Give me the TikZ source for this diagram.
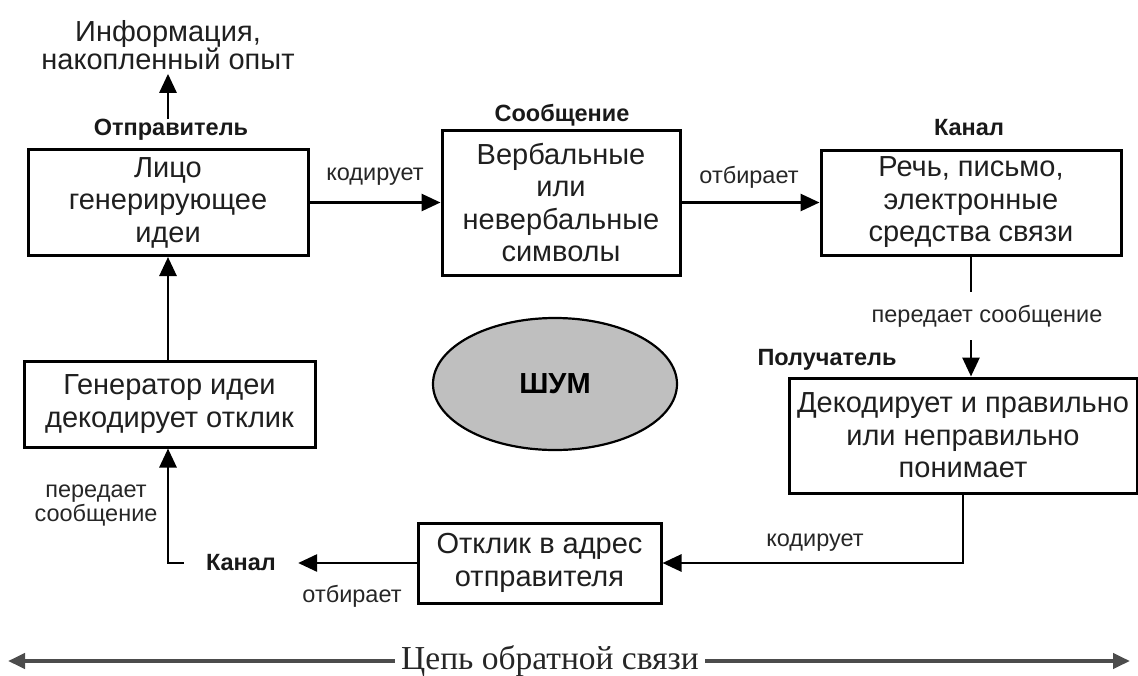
\documentclass[tikz,border=0pt]{standalone}
\usepackage{fontspec}
\setmainfont{Liberation Sans}
\newfontfamily\timesfont{Liberation Serif}
\usetikzlibrary{arrows.meta,positioning,shapes.geometric}

\begin{document}
\begin{tikzpicture}[x=1pt,y=-1pt,
    box/.style={draw,line width=3pt,inner sep=0pt,align=center,
        font=\fontsize{29}{32.5}\selectfont,text=black!88},
    lbl/.style={inner sep=0pt,align=center,font=\fontsize{23.5}{24}\selectfont,text=black!85},
    role/.style={inner sep=0pt,font=\bfseries\fontsize{23.5}{26}\selectfont,text=black!90},
    arr/.style={line width=2.8pt,-{Triangle[length=19pt,width=17pt]}},
    ln/.style={line width=2.8pt}]
    \useasboundingbox (0,0) rectangle (1138,675);

    % top row
    \node[box,minimum width=280,minimum height=106] (idea) at (168,202.5) {Лицо\\генерирующее\\идеи};
    \node[box,minimum width=238,minimum height=145] (msg) at (561,202.5) {Вербальные\\или\\невербальные\\символы};
    \node[box,minimum width=300,minimum height=105] (chan) at (971,202.5) {Речь, письмо,\\электронные\\средства связи};
    \node[role] (sender) at (171,130) {Отправитель};
    \node[role] (msgtitle) at (562,115) {Сообщение};
    \node[role] (chantitle) at (969,128) {Канал};
    \node[inner sep=0pt,align=center,font=\fontsize{29}{28}\selectfont,text=black!88] (info) at (168,45) {Информация,\\накопленный опыт};

    % right and bottom
    \node[box,minimum width=348,minimum height=115] (decode) at (963,435.5) {Декодирует и правильно\\или неправильно\\понимает};
    \node[role] (recv) at (827,360) {Получатель};
    \node[box,minimum width=243,minimum height=80] (reply) at (539.5,563) {Отклик в адрес\\отправителя};
    \node[role] (chanback) at (241,563) {Канал};
    \node[box,minimum width=291,minimum height=86] (gen) at (169.5,404) {Генератор идеи\\декодирует отклик};

    % noise
    \node[ellipse,draw,line width=2.2pt,fill=black!25,minimum width=244,minimum height=132,
        font=\bfseries\fontsize{29}{30}\selectfont] (noise) at (555,384) {ШУМ};

    % labels on the connectors
    \node[lbl] (enc) at (375,177) {кодирует};
    \node[lbl] (sel) at (749,177) {отбирает};
    \node[lbl,inner ysep=13pt] (pass) at (987,316) {передает сообщение};
    \node[lbl] (enc2) at (815,543) {кодирует};
    \node[lbl] (sel2) at (352,596) {отбирает};
    \node[lbl] (pass2) at (96,506) {передает\\сообщение};

    \draw[arr] (sender.north -| info.south) -- ([yshift=-4pt]info.south);
    \draw[arr] (idea.east) -- (msg.west);
    \draw[arr] (msg.east) -- (chan.west);
    \draw[ln] (chan.south) -- (chan.south |- pass.north);
    \draw[arr] (chan.south |- pass.south) -- (chan.south |- decode.north);
    \draw[arr] (decode.south) |- (reply.east);
    \draw[arr] (reply.west) -- ([xshift=22pt]chanback.east);
    \draw[arr] ([xshift=-22pt]chanback.west) -| (gen.south -| idea.south);
    \draw[arr] (gen.north -| idea.south) -- (idea.south);

    % feedback loop
    \coordinate (fbL) at (8,661);
    \coordinate (fbR) at (1130,661);
    \node[inner sep=6pt,font=\timesfont\fontsize{33.5}{34}\selectfont,text=black!85] (fb) at (550,661) {Цепь обратной связи};
    \draw[line width=4pt,draw=black!70,-{Triangle[length=17pt,width=15pt]}] (fb.west) -- (fbL);
    \draw[line width=4pt,draw=black!70,-{Triangle[length=17pt,width=15pt]}] (fb.east) -- (fbR);
\end{tikzpicture}
\end{document}
